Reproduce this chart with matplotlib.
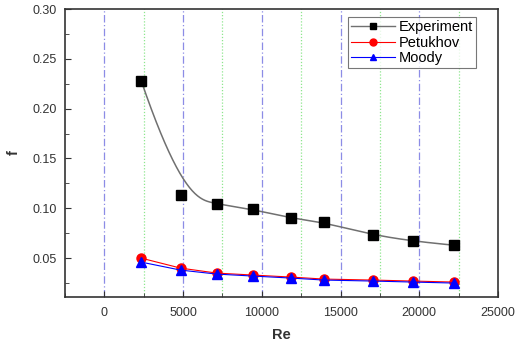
import numpy as np
import matplotlib
matplotlib.use("Agg")
import matplotlib.pyplot as plt
from matplotlib.ticker import MultipleLocator
from matplotlib.lines import Line2D

re_vals = [2340, 4840, 7130, 9450, 11850, 13930, 17050, 19570, 22190]
f_experiment = [0.228, 0.113, 0.104, 0.099, 0.090, 0.086, 0.073, 0.067, 0.063]
f_petukhov = [0.050, 0.040, 0.035, 0.033, 0.031, 0.029, 0.028, 0.027, 0.026]
f_moody = [0.046, 0.038, 0.034, 0.032, 0.030, 0.028, 0.027, 0.026, 0.025]

x_ticks = [0, 5000, 10000, 15000, 20000, 25000]
y_ticks = [0.05, 0.10, 0.15, 0.20, 0.25, 0.30]


def bspline(px, py, n=400):
    # clamped cubic B-spline using data points as control points
    P = np.column_stack([px, py]).astype(float)
    k = 3
    m = len(P)
    knots = np.concatenate([np.zeros(k), np.linspace(0, 1, m - k + 1), np.ones(k)])
    t = np.linspace(0, 1 - 1e-9, n)

    def basis(i, kk, tt):
        if kk == 0:
            return np.where((knots[i] <= tt) & (tt < knots[i + 1]), 1.0, 0.0)
        d1 = knots[i + kk] - knots[i]
        d2 = knots[i + kk + 1] - knots[i + 1]
        a = 0 if d1 == 0 else (tt - knots[i]) / d1 * basis(i, kk - 1, tt)
        b = 0 if d2 == 0 else (knots[i + kk + 1] - tt) / d2 * basis(i + 1, kk - 1, tt)
        return a + b

    B = np.array([basis(i, k, t) for i in range(m)])
    C = B.T @ P
    C = np.vstack([C, P[-1]])
    return C[:, 0], C[:, 1]


plt.rcParams['font.family'] = ['Liberation Sans', 'DejaVu Sans']
fig = plt.figure(figsize=(5.22, 3.42), dpi=100)
ax = fig.add_axes([65 / 522, 1 - 297 / 342, (498 - 65) / 522, (297 - 9) / 342])

ax.set_xlim(-2500, 25000)
ax.set_ylim(0.011, 0.30)

for xv in [0, 5000, 10000, 15000, 20000]:
    ax.axvline(xv, color='#8c8ce6', lw=0.9, ls=(0, (6, 2, 1, 2)), zorder=0)
for xv in [2500, 7500, 12500, 17500, 22500]:
    ax.axvline(xv, color='#8ee68e', lw=0.9, ls=(0, (1, 1.5)), zorder=0)

sx, sy = bspline(re_vals, f_experiment)
ax.plot(sx, sy, color='#707070', lw=1.1, zorder=2)
ax.plot(re_vals, f_experiment, ls='none', marker='s', ms=6.5, color='black', zorder=3)
ax.plot(re_vals, f_petukhov, color='red', lw=0.8, marker='o', ms=6.5, zorder=3)
ax.plot(re_vals, f_moody, color='blue', lw=0.8, marker='^', ms=6.5, zorder=4)

handles = [
    Line2D([], [], color='#707070', lw=1, marker='s', mfc='black', mec='black', ms=5),
    Line2D([], [], color='red', lw=0.8, marker='o', ms=5),
    Line2D([], [], color='blue', lw=0.8, marker='^', ms=5),
]
leg = ax.legend(handles, ['Experiment', 'Petukhov', 'Moody'], loc='upper left',
                bbox_to_anchor=((348 - 65) / 433, 1 - 8 / 288), fontsize=10.5,
                frameon=True, fancybox=False, edgecolor='#555555',
                borderpad=0.2, labelspacing=0.12, handlelength=3.0,
                handletextpad=0.3, borderaxespad=0)
leg.get_frame().set_linewidth(0.8)

ax.set_xticks(x_ticks)
ax.set_xticklabels([str(v) for v in x_ticks])
ax.set_yticks(y_ticks)
ax.set_yticklabels([f"{v:.2f}" for v in y_ticks])
ax.xaxis.set_minor_locator(MultipleLocator(2500))
ax.yaxis.set_minor_locator(MultipleLocator(0.025))
ax.tick_params(direction='in', which='both', labelsize=9, color='#333333',
               labelcolor='#333333')
ax.tick_params(which='major', length=4)
ax.tick_params(which='minor', length=3)
ax.tick_params(axis='y', pad=6)
ax.tick_params(axis='x', pad=7)

for s in ax.spines.values():
    s.set_linewidth(1.2)
    s.set_color('#333333')

ax.set_xlabel('Re', fontsize=10.5, fontweight='bold', color='#333333', labelpad=7)
ax.set_ylabel('f', fontsize=10.5, fontweight='bold', color='#333333', labelpad=8)

fig.savefig('out.png', dpi=100)
